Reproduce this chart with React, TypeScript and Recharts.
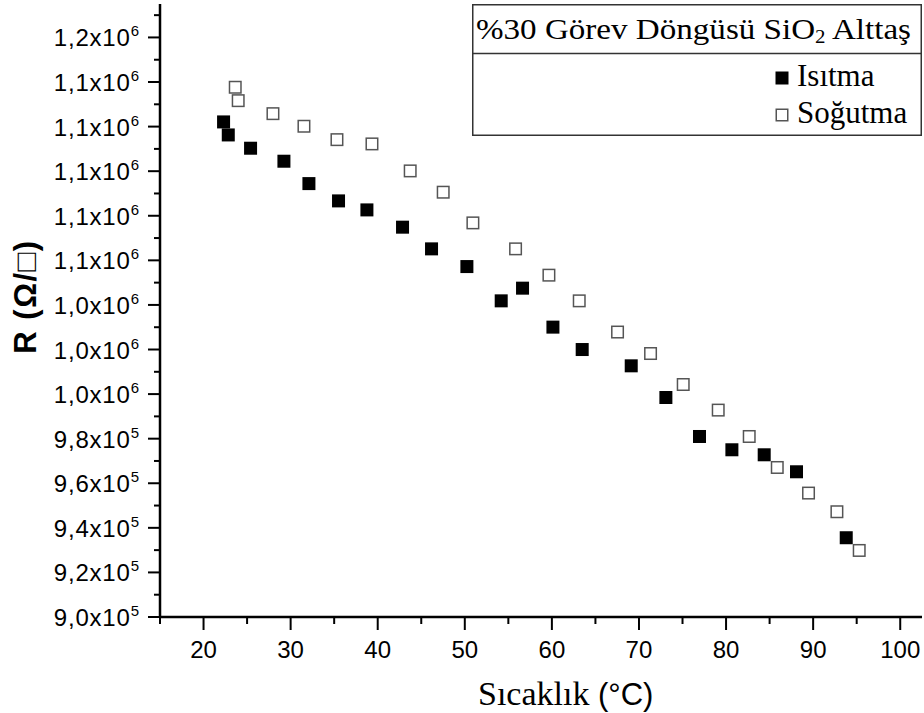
import React from 'react';
import { ScatterChart, Scatter, XAxis, YAxis, Legend } from 'recharts';

// Heating (Isıtma) series
const heatingTemp = [22.3, 22.84, 25.4, 29.23, 32.1, 35.5, 38.76, 42.85, 46.18, 50.24, 54.18, 56.63, 60.12, 63.48, 69.11, 73.09, 76.95, 80.67, 84.38, 88.09, 93.8];
const heatingR = [1122100, 1116260, 1110300, 1104470, 1094430, 1086670, 1082630, 1074880, 1065150, 1057210, 1041830, 1047520, 1030040, 1019990, 1012680, 998470, 980980, 975020, 972770, 965150, 935560];

// Cooling (Soğutma) series
const coolingTemp = [23.64, 23.98, 27.97, 31.53, 35.32, 39.34, 43.73, 47.52, 50.93, 55.83, 59.66, 63.14, 67.54, 71.33, 75.08, 79.1, 82.66, 85.88, 89.47, 92.73, 95.29];
const coolingR = [1137650, 1131640, 1125810, 1120160, 1114150, 1112230, 1100120, 1090570, 1076800, 1065150, 1053350, 1041830, 1027840, 1018200, 1004300, 992820, 980980, 967080, 955600, 947220, 929860];

// Axis ticks
const xMajorTicks = [20, 30, 40, 50, 60, 70, 80, 90, 100];
const xMinorTicks = [15, 25, 35, 45, 55, 65, 75, 85, 95];
const xDomain = [15, 102.5];

const yMajorTicks = [900000, 920000, 940000, 960000, 980000, 1000000, 1020000, 1040000, 1060000, 1080000, 1100000, 1120000, 1140000, 1160000];
const yMajorMantissa = ['9,0', '9,2', '9,4', '9,6', '9,8', '1,0', '1,0', '1,0', '1,1', '1,1', '1,1', '1,1', '1,1', '1,2'];
const yMajorExponent = ['5', '5', '5', '5', '5', '6', '6', '6', '6', '6', '6', '6', '6', '6'];
const yMinorTicks = [910000, 930000, 950000, 970000, 990000, 1010000, 1030000, 1050000, 1070000, 1090000, 1110000, 1130000, 1150000, 1170000];
const yDomain = [900000, 1175000];

const legendTitle = '%30 Görev Döngüsü SiO';
const legendTitleSub = '2';
const legendTitleEnd = ' Alttaş';
const heatingName = 'Isıtma';
const coolingName = 'Soğutma';
const xLabelMain = 'Sıcaklık ';
const xLabelUnit = '(°C)';
const yLabel = 'R (Ω/□)';

const heatingData = heatingTemp.map((t, i) => ({ x: t, y: heatingR[i] }));
const coolingData = coolingTemp.map((t, i) => ({ x: t, y: coolingR[i] }));

const SANS = "'Liberation Sans', Arial, sans-serif";
const SERIF = "'Liberation Serif', 'Times New Roman', serif";

const XTick = (props: any) => {
  const { x, y, payload } = props;
  const major = xMajorTicks.indexOf(payload.value) >= 0;
  return (
    <g>
      <line x1={x} x2={x} y1={y} y2={y + (major ? 13 : 7)} stroke="#000" strokeWidth={2} />
      {major && (
        <text x={x} y={y + 41} textAnchor="middle" fontFamily={SANS} fontSize={24} fill="#000">
          {payload.value}
        </text>
      )}
    </g>
  );
};

const YTick = (props: any) => {
  const { x, y, payload } = props;
  const idx = yMajorTicks.indexOf(payload.value);
  const major = idx >= 0;
  return (
    <g>
      <line x1={x - (major ? 12 : 6)} x2={x} y1={y} y2={y} stroke="#000" strokeWidth={2} />
      {major && (
        <text x={x - 21} y={y + 9} textAnchor="end" fontFamily={SANS} fontSize={24} letterSpacing={0.8} fill="#000">
          {yMajorMantissa[idx]}x10
          <tspan dy={-10} fontSize={15} letterSpacing={0}>{yMajorExponent[idx]}</tspan>
        </text>
      )}
    </g>
  );
};

const FilledSquare = (props: any) => {
  const { cx, cy } = props;
  return <rect x={cx - 6.5} y={cy - 6.5} width={13} height={13} fill="#000" />;
};

const OpenSquare = (props: any) => {
  const { cx, cy } = props;
  return <rect x={cx - 5.75} y={cy - 5.75} width={11.5} height={11.5} fill="#fff" stroke="#555" strokeWidth={1.5} />;
};

const LegendBox = (props: any) => {
  const payload = props.payload || [];
  return (
    <svg width={450} height={132} style={{ display: 'block' }}>
      <rect x={0.75} y={0.75} width={448.5} height={130.5} fill="#fff" stroke="#333" strokeWidth={1.5} />
      <line x1={0} x2={450} y1={49.5} y2={49.5} stroke="#333" strokeWidth={1.5} />
      <text x={4} y={34.5} fontFamily={SERIF} fontSize={30} fill="#000" textLength={435} lengthAdjust="spacingAndGlyphs">
        {legendTitle}
        <tspan dy={4} fontSize={19}>{legendTitleSub}</tspan>
        <tspan dy={-4}>{legendTitleEnd}</tspan>
      </text>
      {payload.map((entry: any, i: number) => {
        const cy = 74 + i * 37;
        return (
          <g key={i}>
            {i === 0 ? (
              <rect x={303.5} y={cy - 6.5} width={13} height={13} fill="#000" />
            ) : (
              <rect x={304.25} y={cy - 5.75} width={11.5} height={11.5} fill="#fff" stroke="#555" strokeWidth={1.5} />
            )}
            <text x={325} y={cy + 7.5} fontFamily={SERIF} fontSize={31} fill="#000">
              {entry.value}
            </text>
          </g>
        );
      })}
    </svg>
  );
};

export default function App() {
  return (
    <div style={{ position: 'absolute', left: 0, top: 0, width: 924, height: 713, background: '#fff' }}>
      <ScatterChart width={924} height={713} margin={{ top: 4, right: 2, left: 0, bottom: 0 }}>
        <XAxis
          dataKey="x"
          type="number"
          domain={xDomain}
          allowDataOverflow
          ticks={[...xMinorTicks, ...xMajorTicks].sort((a, b) => a - b)}
          interval={0}
          height={96}
          tickSize={0}
          tickMargin={0}
          tickLine={false}
          tick={<XTick />}
          axisLine={{ stroke: '#000', strokeWidth: 2.5 }}
          label={(p: any) => {
            const vb = p.viewBox;
            return (
              <text x={vb.x + 318} y={vb.y + 88} fill="#000">
                <tspan fontFamily={SERIF} fontSize={34}>{xLabelMain}</tspan>
                <tspan fontFamily={SANS} fontSize={31}>{xLabelUnit}</tspan>
              </text>
            );
          }}
        />
        <YAxis
          dataKey="y"
          type="number"
          domain={yDomain}
          allowDataOverflow
          ticks={[...yMinorTicks, ...yMajorTicks].sort((a, b) => a - b)}
          interval={0}
          width={160}
          tickSize={0}
          tickMargin={0}
          tickLine={false}
          tick={<YTick />}
          axisLine={{ stroke: '#000', strokeWidth: 2.5 }}
          label={(p: any) => {
            const vb = p.viewBox;
            const cx = vb.x + 25;
            const cy = vb.y + vb.height / 2 - 14;
            return (
              <text
                x={cx}
                y={cy}
                transform={`rotate(-90, ${cx}, ${cy})`}
                textAnchor="middle"
                dominantBaseline="central"
                fontFamily={SANS}
                fontWeight="bold"
                fontSize={31}
                letterSpacing={1.5}
                fill="#000"
              >
                {yLabel}
              </text>
            );
          }}
        />
        <XAxis
          xAxisId="top"
          orientation="top"
          type="number"
          domain={xDomain}
          allowDataOverflow
          height={0}
          tick={false}
          tickLine={false}
          axisLine={{ stroke: '#000', strokeWidth: 2 }}
        />
        <YAxis
          yAxisId="right"
          orientation="right"
          type="number"
          domain={yDomain}
          allowDataOverflow
          width={0}
          tick={false}
          tickLine={false}
          axisLine={{ stroke: '#000', strokeWidth: 2 }}
        />
        <Legend
          layout="vertical"
          align="center"
          verticalAlign="middle"
          content={<LegendBox />}
          wrapperStyle={{ left: 472, top: 4, width: 450, height: 132 }}
        />
        <Scatter name={heatingName} data={heatingData} fill="#000" shape={<FilledSquare />} isAnimationActive={false} />
        <Scatter name={coolingName} data={coolingData} fill="#fff" shape={<OpenSquare />} isAnimationActive={false} />
      </ScatterChart>
    </div>
  );
}
